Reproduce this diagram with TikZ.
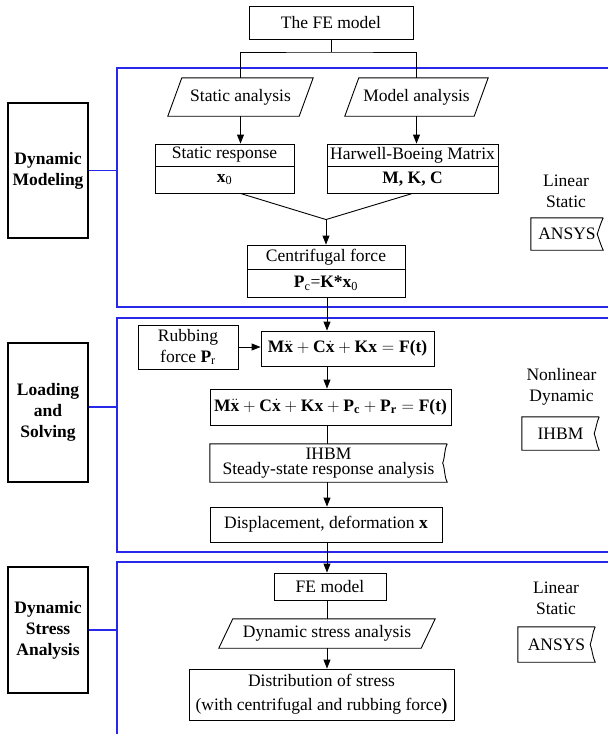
\documentclass[tikz,border=0pt]{standalone}
\usepackage{fontspec}
\setmainfont{Liberation Serif}
\usetikzlibrary{arrows.meta,calc}
\definecolor{frameblue}{RGB}{40,40,235}
\newcommand\paragbox[1]{\draw[ln] ([xshift=-7pt]#1.south west) -- ([xshift=7pt]#1.north west) -- ([xshift=7pt]#1.north east) -- ([xshift=-7pt]#1.south east) -- cycle;}
\newcommand\wavybox[2]{\draw[ln] (#1.north east) -- (#1.north west) -- (#1.south west) -- (#1.south east) to[out=115,in=-70] ([xshift=-#2]#1.east) to[out=70,in=-115] (#1.north east);}
\begin{document}
\begin{tikzpicture}[x=1pt,y=-1pt,
  every node/.style={font={\fontsize{17.5}{21}\selectfont}, inner sep=0pt, align=center},
  box/.style 2 args={draw, line width=0.9pt, minimum width=#1, minimum height=#2},
  shp/.style 2 args={minimum width=#1, minimum height=#2},
  lbl/.style 2 args={draw, line width=2pt, minimum width=#1, minimum height=#2, font={\fontsize{17.5}{21}\selectfont\bfseries}},
  ln/.style={line width=0.9pt},
  arr/.style={line width=0.9pt, -{Triangle[length=9pt,width=7pt]}},
  bl/.style={draw=frameblue, line width=1.1pt}]
\useasboundingbox (0,0) rectangle (608,734);
\fill[white] (0,0) rectangle (608,734);
\clip (0,0) rectangle (608,734);

% blue frames
\draw[bl] (117,68) rectangle (640,307);
\draw[bl] (117,318) rectangle (640,552);
\draw[bl] (117,562) rectangle (640,760);
\coordinate (fx) at (117,0);

% left labels
\node[lbl={80}{135}] (dm) at (48,170.5) {Dynamic\\Modeling};
\node[lbl={80}{139}] (lsv) at (48,412.5) {Loading\\and\\Solving};
\node[lbl={80}{126}] (dsa) at (48,630) {Dynamic\\Stress\\Analysis};
\draw[bl] (dm.east) -- (dm.east -| fx);
\draw[bl] ([yshift=5.5pt]lsv.east) -- ([yshift=5.5pt]lsv.east -| fx);
\draw[bl] (dsa.east) -- (dsa.east -| fx);

% flow nodes
\node[box={164}{33}] (fe) at (331,22.5) {The FE model};
\node[shp={131}{38}] (sa) at (240.5,97) {Static analysis};
\node[shp={129}{38}] (ma) at (416.5,97) {Model analysis};
\paragbox{sa}
\paragbox{ma}
\node[box={139}{22}] (sr1) at (224.5,155) {Static response};
\node[box={139}{27}] (sr2) at (224.5,179.5) {\textbf{x}\textsubscript{0}};
\node[box={171}{22}] (hb1) at (412.5,155) {Harwell-Boeing Matrix};
\node[box={171}{27}] (hb2) at (412.5,179.5) {\textbf{M, K, C}};
\node[box={158}{24}] (cf1) at (326,257) {Centrifugal force};
\node[box={158}{28}] (cf2) at (326,283) {\textbf{P}\textsubscript{c}=\textbf{K*x}\textsubscript{0}};

\node[box={100}{44}] (rub) at (188,347) {Rubbing\\force \textbf{P}\textsubscript{r}};
\node[box={173}{35}] (eq1) at (347.5,348.5) {$\mathbf{M}\ddot{\mathbf{x}}+\mathbf{C}\dot{\mathbf{x}}+\mathbf{K}\mathbf{x}=\textbf{F(t)}$};
\node[box={241}{36}] (eq2) at (330.5,407) {$\mathbf{M}\ddot{\mathbf{x}}+\mathbf{C}\dot{\mathbf{x}}+\mathbf{K}\mathbf{x}+\mathbf{P}_{\mathbf{c}}+\mathbf{P}_{\mathbf{r}}=\textbf{F(t)}$};
\node[shp={237}{38}, font={\fontsize{17.5}{15}\selectfont}] (ih) at (328.5,463) {IHBM\\Steady-state response analysis};
\wavybox{ih}{4.5pt}
\node[box={232}{35}] (dp) at (326,524.5) {Displacement, deformation \textbf{x}};
\node[box={112}{27}] (fe2) at (330,586.5) {FE model};
\node[shp={202}{29}] (ds) at (327,633.5) {Dynamic stress analysis};
\paragbox{ds}
\node[box={265}{51}, font={\fontsize{17.5}{24}\selectfont}] (dist) at (321.5,694.5) {Distribution of stress\\(with centrifugal and rubbing force\textbf{)}};

% right side
\node (t1) at (566,191) {Linear\\Static};
\node[shp={72}{32}] (an1) at (567,234) {ANSYS};
\wavybox{an1}{6pt}
\node (t2) at (561.5,386.5) {Nonlinear\\Dynamic};
\node[shp={77}{33}] (ih2) at (560.5,433.5) {IHBM};
\wavybox{ih2}{5pt}
\node (t3) at (556,598) {Linear\\Static};
\node[shp={77}{35}] (an2) at (556.5,644.5) {ANSYS};
\wavybox{an2}{5pt}

% connectors
\coordinate (j) at (331,52);
\draw[ln] (fe.south) -- (j);
\draw[ln] (sa.north) |- (j) -| (ma.north);
\draw[arr] (sa.south) -- (sa.south |- sr1.north);
\draw[arr] (ma.south) -- (ma.south |- hb1.north);
\coordinate (m) at ($(cf1.north)+(0,-25)$);
\draw[ln] (sr2.south -| sa.south) -- (m) -- (hb2.south);
\draw[arr] (m) -- (cf1.north);
\coordinate (col) at (327,0);
\draw[arr] (cf2.south -| col) -- (eq1.north -| col);
\draw[arr] (rub.east) -- (rub.east -| eq1.west);
\draw[arr] (eq1.south -| col) -- (eq2.north -| col);
\draw[ln] (eq2.south -| col) -- (ih.north -| col);
\draw[arr] (ih.south -| col) -- (dp.north -| col);
\draw[arr] (dp.south -| col) -- (fe2.north -| col);
\draw[ln] (fe2.south -| col) -- (ds.north -| col);
\draw[arr] (ds.south -| col) -- (dist.north -| col);
\end{tikzpicture}
\end{document}
